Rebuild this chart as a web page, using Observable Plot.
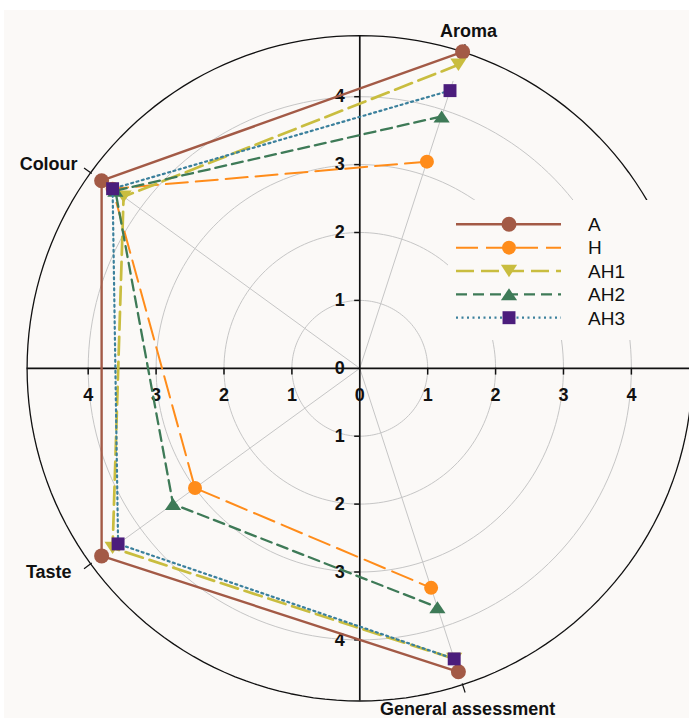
<!DOCTYPE html>
<html><head><meta charset="utf-8">
<script src="https://cdn.jsdelivr.net/npm/d3@7"></script>
<script src="https://cdn.jsdelivr.net/npm/@observablehq/plot@0.6"></script>
<style>
html,body{margin:0;padding:0;background:#fff;}
#wrap{position:relative;width:689px;height:718px;overflow:hidden;background:linear-gradient(to bottom,#fff 0,#fff 10px,transparent 10px),linear-gradient(to right,#fff 0,#fff 4px,#fbf9f7 4px);}
#wrap svg.plot{display:block;}
#legend{position:absolute;left:448px;top:200px;width:241px;height:140px;background:#fbf9f7;}
</style></head><body><div id="wrap"></div>
<script>
// ---- data ----
const categories = ["Aroma", "Colour", "Taste", "General assessment"];
const seriesNames = ["A", "H", "AH1", "AH2", "AH3"];
const valuesA   = [4.9, 4.7, 4.7, 4.7];
const valuesH   = [3.2, 4.5, 3.0, 3.4];
const valuesAH1 = [4.7, 4.3, 4.5, 4.5];
const valuesAH2 = [3.9, 4.45, 3.4, 3.7];
const valuesAH3 = [4.3, 4.5, 4.4, 4.5];
const gridRadii = [1, 2, 3, 4];
const axisTicks = [-4, -3, -2, -1, 0, 1, 2, 3, 4];
const outerRadius = 4.9;
const spokeRadius = 4.45;

// ---- styles ----
const styles = {
  A:   {stroke: "#a35a46", fill: "#a35a46", width: 2.4, dash: null,   symbol: "circle", r: 7.5},
  H:   {stroke: "#ff8c1a", fill: "#ff8c1a", width: 2,   dash: "22,8", symbol: "circle", r: 7},
  AH1: {stroke: "#c9bd3f", fill: "#c9bd3f", width: 2.7, dash: "18,7", symbol: "triDown", r: 7.5},
  AH2: {stroke: "#3e7a57", fill: "#3e7a57", width: 2.3, dash: "11,6", symbol: "triUp", r: 7.5},
  AH3: {stroke: "#3b809c", fill: "#4b1d7c", width: 2.2, dash: "2,3.5", symbol: "square", r: 7.3}
};
const labelPos = {
  "Aroma": {anchor: "middle", dx: 6, dy: -21},
  "Colour": {anchor: "end", dx: -13, dy: -9},
  "Taste": {anchor: "end", dx: -19, dy: 8},
  "General assessment": {anchor: "middle", dx: 5, dy: 25}
};

// ---- geometry helpers (angles clockwise from north, categories spaced by 72°) ----
const angleOf = i => (18 - 72 * i) * Math.PI / 180;
const px = (r, a) => r * Math.sin(a);
const py = (r, a) => r * Math.cos(a);

const triDown = {draw(ctx, size) {
  const r = Math.sqrt(size / Math.PI), w = r * 1.08, h = r * 1.65;
  ctx.moveTo(-w, -h / 2); ctx.lineTo(w, -h / 2); ctx.lineTo(0, h / 2); ctx.closePath();
}};
const triUp = {draw(ctx, size) {
  const r = Math.sqrt(size / Math.PI), w = r * 1.08, h = r * 1.6;
  ctx.moveTo(-w, h / 2); ctx.lineTo(w, h / 2); ctx.lineTo(0, -h / 2); ctx.closePath();
}};
const symbolMap = {circle: "circle", square: "square", triDown, triUp};

const seriesValues = {A: valuesA, H: valuesH, AH1: valuesAH1, AH2: valuesAH2, AH3: valuesAH3};
const points = seriesNames.map(s => seriesValues[s].map((v, i) => ({s, cat: categories[i], v, a: angleOf(i)})));

const circlePts = rr => d3.range(0, 361, 2).map(deg => ({rr, a: deg * Math.PI / 180}));
const gridData = gridRadii.flatMap(circlePts);
const outerData = circlePts(outerRadius);
const catData = categories.map((c, i) => ({c, a: angleOf(i)}));

const marks = [
  Plot.line(gridData, {x: d => px(d.rr, d.a), y: d => py(d.rr, d.a), z: "rr", stroke: "#c6c6c6", strokeWidth: 1}),
  Plot.link(catData, {x1: () => 0, y1: () => 0, x2: d => px(spokeRadius, d.a), y2: d => py(spokeRadius, d.a), stroke: "#c6c6c6", strokeWidth: 1}),
  Plot.line(outerData, {x: d => px(outerRadius, d.a), y: d => py(outerRadius, d.a), stroke: "#111", strokeWidth: 1.3}),
  Plot.link(catData, {x1: d => px(outerRadius - 0.02, d.a), y1: d => py(outerRadius - 0.02, d.a), x2: d => px(outerRadius + 0.12, d.a), y2: d => py(outerRadius + 0.12, d.a), stroke: "#111", strokeWidth: 1.2}),
  Plot.ruleX([0], {y1: () => -outerRadius, y2: () => outerRadius, stroke: "#111", strokeWidth: 1.7}),
  Plot.ruleY([0], {x1: () => -outerRadius, x2: () => outerRadius, stroke: "#111", strokeWidth: 1.7}),
  Plot.ruleY(axisTicks.filter(t => t !== 0), {y: d => d, x1: () => -0.075, x2: () => 0, stroke: "#111", strokeWidth: 1.5}),
  Plot.ruleX(axisTicks.filter(t => t !== 0), {x: d => d, y1: () => 0, y2: () => -0.1, stroke: "#111", strokeWidth: 1.5}),
  Plot.text(axisTicks, {x: () => 0, y: d => d, text: d => String(Math.abs(d)), textAnchor: "end", dx: -15, fontSize: 18, fontWeight: "bold", fill: "#111"}),
  Plot.text(axisTicks, {x: d => d, y: () => 0, text: d => String(Math.abs(d)), dy: 27, fontSize: 18, fontWeight: "bold", fill: "#111"}),
  ...categories.map((c, i) => Plot.text([catData[i]], {
    x: d => px(outerRadius, d.a), y: d => py(outerRadius, d.a), text: d => d.c,
    textAnchor: labelPos[c].anchor, dx: labelPos[c].dx, dy: labelPos[c].dy,
    fontSize: 18, fontWeight: "bold", fill: "#111"
  }))
];

points.forEach(pts => {
  const st = styles[pts[0].s];
  marks.push(Plot.line(pts, {x: d => px(d.v, d.a), y: d => py(d.v, d.a), stroke: st.stroke, strokeWidth: st.width, strokeDasharray: st.dash ?? undefined}));
  marks.push(Plot.dot(pts, {x: d => px(d.v, d.a), y: d => py(d.v, d.a), symbol: () => symbolMap[st.symbol], r: st.r, fill: st.fill, stroke: "none"}));
});

const chart = Plot.plot({
  width: 689, height: 718,
  marginLeft: 19.8, marginRight: 7.2, marginTop: 28.3, marginBottom: 10.7,
  x: {domain: [-5, 4.75], axis: null},
  y: {domain: [-5, 5], axis: null},
  symbol: {type: "identity"},
  style: {background: "transparent", fontFamily: "'Liberation Sans', Arial, sans-serif", overflow: "hidden"},
  marks
});
chart.classList.add("plot");
const wrap = document.getElementById("wrap");
wrap.appendChild(chart);

// ---- legend ----
const leg = document.createElement("div");
leg.id = "legend";
wrap.appendChild(leg);
const lsvg = d3.select(leg).append("svg").attr("width", 241).attr("height", 140);
seriesNames.forEach((s, i) => {
  const st = styles[s];
  const y = 24.3 + i * 23.35;
  const g = lsvg.append("g");
  g.append("line").attr("x1", 8).attr("x2", 113).attr("y1", y).attr("y2", y)
    .attr("stroke", st.stroke).attr("stroke-width", st.width).attr("stroke-dasharray", st.dash);
  const sym = symbolMap[st.symbol];
  const path = d3.symbol(sym === "circle" ? d3.symbolCircle : sym === "square" ? d3.symbolSquare : sym, Math.PI * st.r * st.r)();
  g.append("path").attr("d", path).attr("transform", `translate(61,${y})`).attr("fill", st.fill);
  g.append("text").attr("x", 140).attr("y", y).attr("dy", "0.36em").attr("font-size", 19)
    .attr("font-family", "'Liberation Sans', Arial, sans-serif").attr("fill", "#111").text(s);
});
</script></body></html>
